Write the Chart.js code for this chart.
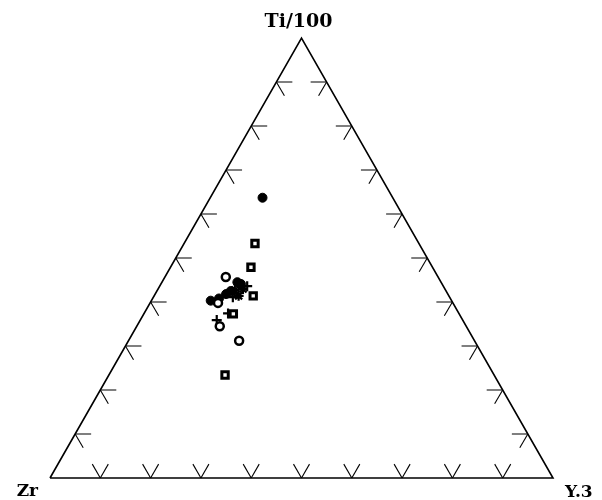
<!DOCTYPE html>
<html>
<head>
<meta charset="utf-8">
<script src="https://cdn.jsdelivr.net/npm/chart.js@4/dist/chart.umd.min.js"></script>
<style>
  html, body { margin: 0; padding: 0; background: #fff; }
  #wrap { width: 602px; height: 500px; position: relative; }
</style>
</head>
<body>
<div id="wrap"><canvas id="c"></canvas></div>
<script>
// Apex labels: top, bottom-left, bottom-right
const apexLabels = ['Ti/100', 'Zr', 'Y.3'];
// Tick positions along each edge (percent)
const edgeTicks = [10, 20, 30, 40, 50, 60, 70, 80, 90];

// Samples as [Ti/100, Zr, Y*3] in percent
const filledCircles = [
  [63.7, 25.9, 10.4], [44.5, 40.5, 15.0], [44.1, 40.0, 15.9], [42.5, 42.8, 14.7],
  [41.8, 44.1, 14.1], [40.8, 46.0, 13.2], [40.3, 47.9, 11.8]
];
const openCircles = [
  [45.7, 42.2, 12.1], [34.5, 49.0, 16.5], [31.2, 46.8, 22.0], [39.8, 46.7, 13.5]
];
const squares = [
  [53.3, 32.6, 14.1], [47.9, 36.1, 16.0], [41.4, 38.9, 19.7], [37.3, 44.9, 17.8], [23.4, 53.5, 23.1]
];
const plusMarks = [
  [43.6, 39.0, 17.4], [37.4, 45.9, 16.7], [35.9, 48.9, 15.2], [41.1, 43.1, 15.8]
];
const starMarks = [
  [41.4, 41.8, 16.8], [42.7, 41.9, 15.4], [43.0, 40.2, 16.9]
];

// Corners of the diagram in ternary form
const cornerTi = [100, 0, 0];
const cornerZr = [0, 100, 0];
const cornerY = [0, 0, 100];

function toXY(p) {
  const s = p[0] + p[1] + p[2];
  return { x: (p[2] + p[0] / 2) / s, y: p[0] / s };
}

const outline = [cornerZr, cornerY, cornerTi, cornerZr].map(toXY);

// Edge ticks and apex labels, placed through the chart scales
const ternaryFrame = {
  id: 'ternaryFrame',
  afterDatasetsDraw(chart) {
    const { ctx, scales: { x: sx, y: sy } } = chart;
    const px = p => { const q = toXY(p); return { x: sx.getPixelForValue(q.x), y: sy.getPixelForValue(q.y) }; };
    const A = px(cornerTi), B = px(cornerZr), C = px(cornerY);
    const cen = { x: (A.x + B.x + C.x) / 3, y: (A.y + B.y + C.y) / 3 };
    const edges = [[cornerZr, cornerY], [cornerZr, cornerTi], [cornerY, cornerTi]];
    const arm = 16, spread = Math.PI / 6;
    ctx.save();
    ctx.strokeStyle = '#000';
    ctx.lineWidth = 1.1;
    edges.forEach(([p0, p1]) => {
      const a = px(p0), b = px(p1);
      let nx = -(b.y - a.y), ny = b.x - a.x;
      const mx = (a.x + b.x) / 2, my = (a.y + b.y) / 2;
      if (nx * (cen.x - mx) + ny * (cen.y - my) < 0) { nx = -nx; ny = -ny; }
      const nl = Math.hypot(nx, ny); nx /= nl; ny /= nl;
      const base = Math.atan2(ny, nx);
      edgeTicks.forEach(t => {
        const f = t / 100;
        const q = [p0[0] * (1 - f) + p1[0] * f, p0[1] * (1 - f) + p1[1] * f, p0[2] * (1 - f) + p1[2] * f];
        const o = px(q);
        [base - spread, base + spread].forEach(ang => {
          ctx.beginPath();
          ctx.moveTo(o.x, o.y);
          ctx.lineTo(o.x + arm * Math.cos(ang), o.y + arm * Math.sin(ang));
          ctx.stroke();
        });
      });
    });
    ctx.fillStyle = '#000';
    ctx.font = 'bold 19px "DejaVu Serif"';
    ctx.textAlign = 'center';
    ctx.textBaseline = 'alphabetic';
    ctx.fillText(apexLabels[0], A.x - 3, A.y - 11);
    ctx.font = 'bold 17px "DejaVu Serif"';
    ctx.textAlign = 'right';
    ctx.fillText(apexLabels[1], B.x - 12, B.y + 18);
    ctx.textAlign = 'left';
    ctx.fillText(apexLabels[2], C.x + 12, C.y + 19);
    ctx.restore();
  }
};

new Chart(document.getElementById('c'), {
  type: 'scatter',
  data: {
    datasets: [
      { data: outline, showLine: true, borderColor: '#000', borderWidth: 1.6, pointRadius: 0, fill: false, tension: 0, order: 10 },
      { data: squares.map(toXY), pointStyle: 'rect', pointRadius: 4.5, borderWidth: 3, borderColor: '#000', backgroundColor: '#fff' },
      { data: openCircles.map(toXY), pointStyle: 'circle', pointRadius: 4, borderWidth: 2.5, borderColor: '#000', backgroundColor: '#fff' },
      { data: filledCircles.map(toXY), pointStyle: 'circle', pointRadius: 4.5, borderWidth: 1, borderColor: '#000', backgroundColor: '#000' },
      { data: plusMarks.map(toXY), pointStyle: 'cross', pointRadius: 5, borderWidth: 2.2, borderColor: '#000', backgroundColor: '#000' },
      { data: starMarks.map(toXY), pointStyle: 'star', pointRadius: 5, borderWidth: 2.2, borderColor: '#000', backgroundColor: '#000' }
    ]
  },
  options: {
    responsive: true,
    maintainAspectRatio: false,
    animation: false,
    layout: { padding: { left: 50, right: 49, top: 38, bottom: 22 } },
    clip: false,
    scales: {
      x: { type: 'linear', min: 0, max: 1, display: false },
      y: { type: 'linear', min: 0, max: 1, display: false }
    },
    plugins: { legend: { display: false }, tooltip: { enabled: false } }
  },
  plugins: [ternaryFrame]
});
</script>
</body>
</html>
